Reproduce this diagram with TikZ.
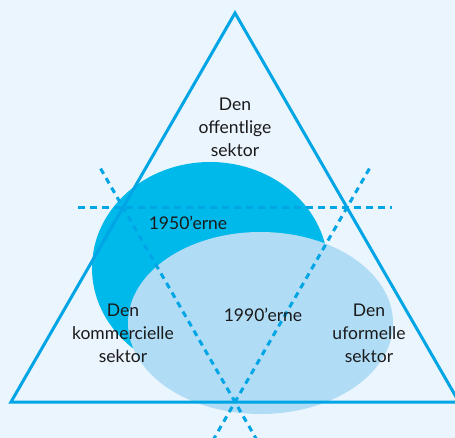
\documentclass[tikz,border=0pt]{standalone}
\usepackage{fontspec}
\setmainfont{Lato}
\usetikzlibrary{calc}
\definecolor{bgc}{HTML}{EBF5FE}
\definecolor{linec}{HTML}{00A5E5}
\definecolor{darkc}{HTML}{00B9EB}
\definecolor{lightc}{HTML}{B0DCF5}
\definecolor{txtc}{HTML}{1A1A1A}
\begin{document}
\begin{tikzpicture}[x=1pt,y=-1pt,
  tri/.style={draw=linec,line width=3pt,line join=miter},
  dashline/.style={draw=linec,line width=3pt,dash pattern=on 7pt off 5pt},
  dashdiag/.style={draw=linec,line width=3pt,dash pattern=on 6pt off 5pt},
  lbl/.style={font=\fontsize{17.5}{23}\selectfont,align=center,text=txtc,inner sep=0pt}]
\useasboundingbox (0,0) rectangle (455,438);
\fill[bgc] (0,0) rectangle (455,438);
\fill[darkc] (210,268) ellipse [x radius=118pt, y radius=106pt];
\fill[lightc] (260.5,323) ellipse [x radius=132.5pt, y radius=91pt];
\coordinate (A) at (235,13);
\coordinate (B) at (11,402);
\coordinate (C) at (459,402);
\coordinate (mAB) at ($(A)!0.5!(B)$);
\coordinate (mAC) at ($(A)!0.5!(C)$);
\coordinate (mBC) at ($(B)!0.5!(C)$);
\draw[tri] (A) -- (B) -- (C) -- cycle;
\draw[dashline] ($(mAB)!-0.2!(mAC)$) -- ($(mAC)!-0.2!(mAB)$);
\draw[dashdiag] ($(mAB)!-0.2!(mBC)$) -- ($(mBC)!-0.2!(mAB)$);
\draw[dashdiag] ($(mAC)!-0.2!(mBC)$) -- ($(mBC)!-0.2!(mAC)$);
\node[lbl] (off) at (235,127) {Den\\offentlige\\sektor};
\node[lbl] (e50) at (188,223) {1950’erne};
\node[lbl] (kom) at (123,333) {Den\\kommercielle\\sektor};
\node[lbl] (e90) at (263,315) {1990’erne};
\node[lbl] (ufo) at (369,333) {Den\\uformelle\\sektor};
\end{tikzpicture}
\end{document}
